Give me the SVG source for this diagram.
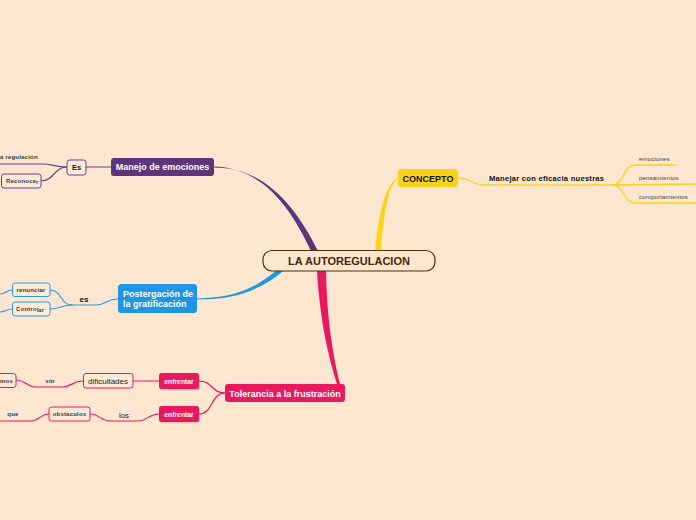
<svg xmlns="http://www.w3.org/2000/svg" width="696" height="520" viewBox="0 0 696 520">
<style>
text{font-family:"Liberation Sans",Arial,sans-serif}
.w{fill:#fff;font-weight:bold}
.sm{font-size:6px;fill:#3a3a3a;letter-spacing:0.2px}
.ln{fill:none;stroke-linecap:round}
.pu{stroke:#6A3E86}
.bl{stroke:#2A9AE6}
.pk{stroke:#E8195E}
.ye{stroke:#FBD31B}
.box{fill:#FDEBD7;stroke-width:1}
</style>
<rect width="696" height="520" fill="#FDE7D0"/>
<g id="connectors">
<!-- main branches (tapered) -->
<path d="M214,166.6 C262,168 290,206 311,251 L318,251 C295,205 264,167.5 214,167.6 Z" fill="#5E347A"/>
<path d="M197,298.4 C236,298 258,287 279,268 L286,269 C262,289 238,299.5 197,299.4 Z" fill="#1E96E6"/>
<path d="M317,271 C320,320 328,355 337,384 L340,384 C333,355 327,320 326,271 Z" fill="#E8195E"/>
<path d="M375,251 C379,215 384,186 398,177.6 L398,178.6 C387,188 384,215 381,251 Z" fill="#FBD31B"/>
<!-- concept -->
<path class="ln ye" stroke-width="1.3" d="M458,178 C470,178 472,185 484,185 L612,185"/>
<path class="ln ye" stroke-width="1.3" d="M612,185 C625,185 622,165 636,165 L676,165"/>
<path class="ln ye" stroke-width="1.3" d="M612,185 L696,184"/>
<path class="ln ye" stroke-width="1.3" d="M612,185 C625,185 622,203 636,203 L696,203"/>
<!-- manejo -->
<path class="ln pu" stroke-width="1.2" d="M86,167 L111,167"/>
<path class="ln pu" stroke-width="1.2" d="M67,167 C55,167 52,164 42,164 L0,164"/>
<path class="ln pu" stroke-width="1.2" d="M67,167 C54,167 54,181 41,181"/>
<!-- postergacion -->
<path class="ln bl" stroke-width="1.2" d="M118,299 C106,299 106,305 96,305 L72,305"/>
<path class="ln bl" stroke-width="1.2" d="M72,305 C60,305 62,290 50,290"/>
<path class="ln bl" stroke-width="1.2" d="M72,305 C62,305 60,309 50,309"/>
<path class="ln bl" stroke-width="1.2" d="M12,290 C6,290 6,294 0,294"/>
<path class="ln bl" stroke-width="1.2" d="M12,309 C6,309 6,312 0,312"/>
<!-- tolerancia -->
<path class="ln pk" stroke-width="1.2" d="M225,393 C211,393 213,381 199,381"/>
<path class="ln pk" stroke-width="1.2" d="M225,393 C211,393 213,414 199,414"/>
<path class="ln pk" stroke-width="1.2" d="M159,381 L133,381"/>
<path class="ln pk" stroke-width="1.2" d="M83,381 C72,381 72,387 62,387 L36,387 C26,387 26,380 16,380"/>
<path class="ln pk" stroke-width="1.2" d="M159,414 C148,414 148,421 138,421 L111,421 C100,421 100,414 90,414"/>
<path class="ln pk" stroke-width="1.2" d="M49,414 C40,414 40,421 30,421 L0,421"/>
</g>
<g id="center">
<rect x="263" y="250.5" width="172" height="20.5" rx="9" fill="#FDE7D0" stroke="#5A2D00" stroke-width="1.2"/>
<text x="349" y="265" text-anchor="middle" font-size="11" font-weight="bold" fill="#4A2600">LA AUTOREGULACION</text>
</g>
<g id="concepto">
<rect x="398" y="169" width="60" height="18" rx="3" fill="#FBD31B"/>
<text x="428" y="181.5" text-anchor="middle" font-size="9" font-weight="bold" fill="#111">CONCEPTO</text>
</g>
<g id="manejar"><text x="489" y="181" font-size="7.6" font-weight="bold" fill="#111" letter-spacing="0.25">Manejar con eficacia nuestras</text></g>
<g id="emociones"><text class="sm" x="639" y="161">emociones</text></g>
<g id="pensamientos"><text class="sm" x="639" y="180">pensamientos</text></g>
<g id="comportamientos"><text class="sm" x="639" y="199">comportamientos</text></g>
<g id="manejo">
<rect x="111" y="158" width="103" height="18" rx="3" fill="#5E347A"/>
<text class="w" x="162.5" y="170.3" text-anchor="middle" font-size="9">Manejo de emociones</text>
</g>
<g id="es1">
<rect class="box" x="67" y="160" width="19" height="15" rx="2.5" stroke="#6A3E86"/>
<text x="76.5" y="170.3" text-anchor="middle" font-size="7.5" font-weight="bold" fill="#111">Es</text>
</g>
<g id="regulacion"><text class="sm" x="0" y="159" font-weight="bold">a regulación</text></g>
<g id="reconocer">
<rect class="box" x="1.5" y="174" width="39.5" height="14" rx="2.5" stroke="#6A3E86"/>
<text class="sm" x="6" y="183" font-weight="bold">Reconoce<tspan font-size="5" dy="1">r</tspan></text>
</g>
<g id="postergacion">
<rect x="118" y="284" width="79" height="29" rx="3.5" fill="#1E96E6"/>
<text class="w" x="123" y="297" font-size="9">Postergación de</text>
<text class="w" x="123" y="307" font-size="9">la gratificación</text>
</g>
<g id="es2"><text x="84" y="301.5" text-anchor="middle" font-size="8" font-weight="bold" fill="#111">es</text></g>
<g id="renunciar">
<rect class="box" x="12.5" y="283" width="37.5" height="13.5" rx="2.5" stroke="#2A9AE6"/>
<text class="sm" x="31" y="292" text-anchor="middle" font-weight="bold">renunciar</text>
</g>
<g id="controlar">
<rect class="box" x="12.5" y="302" width="37.5" height="14" rx="2.5" stroke="#2A9AE6"/>
<text class="sm" x="16" y="311" font-weight="bold">Contro<tspan font-size="5.5" dy="1">lar</tspan></text>
</g>
<g id="tolerancia">
<rect x="225" y="384" width="120" height="18" rx="3" fill="#E8195E"/>
<text class="w" x="285" y="396.5" text-anchor="middle" font-size="9">Tolerancia a la frustración</text>
</g>
<g id="enfrentar1">
<rect x="160" y="374.5" width="40" height="16" rx="2.5" fill="#000" opacity="0.12"/>
<rect x="159" y="373" width="40" height="16" rx="2.5" fill="#E8195E"/>
<text class="w" x="179" y="383.5" text-anchor="middle" font-size="6.8">enfrentar</text>
</g>
<g id="enfrentar2">
<rect x="160" y="407.5" width="40" height="16" rx="2.5" fill="#000" opacity="0.12"/>
<rect x="159" y="406" width="40" height="16" rx="2.5" fill="#E8195E"/>
<text class="w" x="179" y="416.5" text-anchor="middle" font-size="6.8">enfrentar</text>
</g>
<g id="dificultades">
<rect class="box" x="83.5" y="373.5" width="49.5" height="14.5" rx="2.5" stroke="#E8195E"/>
<text x="108" y="384" text-anchor="middle" font-size="8" fill="#222">dificultades</text>
</g>
<g id="sin"><text class="sm" x="50" y="383" text-anchor="middle" font-weight="bold">sin</text></g>
<g id="mos">
<rect class="box" x="-5" y="373.5" width="21" height="14" rx="2.5" stroke="#E8195E"/>
<text class="sm" x="0" y="382.5" font-weight="bold">mos</text>
</g>
<g id="los"><text x="124" y="417.5" text-anchor="middle" font-size="8" fill="#222">los</text></g>
<g id="obstaculos">
<rect class="box" x="49" y="407" width="41" height="14" rx="2.5" stroke="#E8195E"/>
<text class="sm" x="69.5" y="416" text-anchor="middle" font-weight="bold">obstaculos</text>
</g>
<g id="que"><text class="sm" x="13" y="416" text-anchor="middle" font-weight="bold">que</text></g>
</svg>
